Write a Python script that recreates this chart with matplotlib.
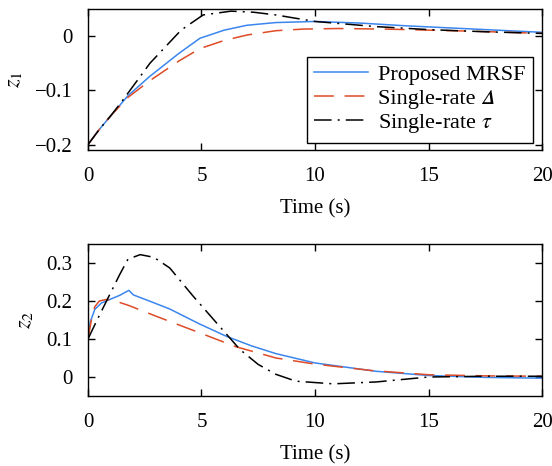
import matplotlib
matplotlib.use("Agg")
import matplotlib.pyplot as plt

plt.rcParams['font.family'] = ['Liberation Serif', 'STIXGeneral', 'DejaVu Serif']
plt.rcParams['mathtext.fontset'] = 'stix'

# ---- data ----
labels = ["Proposed MRSF", "Single-rate \U0001D6E5", r"Single-rate $\tau$"]

t1_mrsf = [0, 0.5, 1.0, 1.76, 2.7, 4.0, 4.93, 6.0, 7.0, 8.28, 10.0, 12.0, 14.0, 16.0, 18.0, 20.0]
z1_mrsf = [-0.2, -0.172, -0.147, -0.11, -0.075, -0.032, -0.004, 0.011, 0.02, 0.025, 0.027, 0.024, 0.019, 0.015, 0.011, 0.007]
t1_sd = [0, 0.5, 1.0, 1.76, 2.73, 4.0, 4.93, 6.0, 7.0, 8.28, 9.5, 11.0, 13.0, 15.0, 17.0, 20.0]
z1_sd = [-0.2, -0.172, -0.147, -0.113, -0.082, -0.046, -0.023, -0.008, 0.002, 0.01, 0.013, 0.014, 0.013, 0.011, 0.009, 0.005]
t1_st = [0, 0.5, 1.0, 1.5, 2.73, 4.1, 5.07, 6.3, 7.3, 8.28, 10.0, 12.7, 15.0, 17.5, 20.0]
z1_st = [-0.2, -0.172, -0.147, -0.12, -0.05, 0.011, 0.039, 0.046, 0.044, 0.039, 0.027, 0.0175, 0.012, 0.008, 0.005]

t2_mrsf = [0, 0.1, 0.3, 0.6, 1.0, 1.4, 1.8, 2.0, 2.7, 3.6, 4.9, 6.1, 7.2, 8.28, 10.0, 12.7, 15.0, 17.5, 20.0]
z2_mrsf = [0.1, 0.145, 0.178, 0.195, 0.205, 0.215, 0.228, 0.216, 0.2, 0.179, 0.14, 0.107, 0.082, 0.0615, 0.037, 0.015, 0.004, -0.001, -0.003]
t2_sd = [0, 0.15, 0.3, 0.5, 0.8, 1.2, 1.76, 3.0, 4.93, 6.5, 8.28, 10.0, 12.5, 15.0, 17.5, 20.0]
z2_sd = [0.1, 0.15, 0.185, 0.2, 0.204, 0.2, 0.189, 0.16, 0.116, 0.08, 0.05, 0.034, 0.017, 0.006, 0.003, 0.002]
t2_st = [0, 0.4, 0.9, 1.4, 1.76, 2.3, 2.9, 3.6, 4.6, 5.8, 6.7, 7.5, 8.28, 9.16, 10.8, 12.7, 15.0, 17.5, 20.0]
z2_st = [0.1, 0.15, 0.21, 0.27, 0.31, 0.322, 0.315, 0.287, 0.215, 0.133, 0.072, 0.033, 0.007, -0.011, -0.018, -0.013, 0.0, 0.002, 0.002]

c_blue = '#3a86ee'
c_red = '#de4b26'
c_black = 'black'

FS = 15

fig = plt.figure(figsize=(5.52, 4.66), dpi=100)
ax1 = fig.add_axes([0.1594, 0.6781, 0.8225, 0.3026])
ax2 = fig.add_axes([0.1594, 0.1502, 0.8225, 0.3262])

def draw(ax, tm, zm, ts, zs, tt, zt):
    ax.plot(tm, zm, color=c_blue, lw=1.1, label=labels[0])
    ax.plot(ts, zs, color=c_red, lw=1.1, dashes=(13, 7), label=labels[1])
    ax.plot(tt, zt, color=c_black, lw=1.1, dashes=(11.5, 4, 1.3, 4), label=labels[2])
    ax.set_xlim(0, 20)
    ax.set_xticks([0, 5, 10, 15, 20])
    ax.tick_params(direction='in', top=True, right=True, labelsize=FS, length=5, width=1, pad=11)
    ax.tick_params(axis='x', pad=12)
    for s in ax.spines.values():
        s.set_linewidth(1.0)
    ax.set_xlabel('Time (s)', fontsize=FS, labelpad=10)

draw(ax1, t1_mrsf, z1_mrsf, t1_sd, z1_sd, t1_st, z1_st)
ax1.set_ylim(-0.21, 0.05)
ax1.set_yticks([-0.2, -0.1, 0])
ax1.set_yticklabels(['\u22120.2', '\u22120.1', '0'])
ax1.set_ylabel(r'$z_1$', fontsize=FS + 1, labelpad=8)
leg = ax1.legend(loc='lower right', fontsize=16, frameon=True, fancybox=False,
                 edgecolor='black', framealpha=1, handlelength=2.4,
                 borderpad=0.35, labelspacing=0.15, handletextpad=0.45,
                 borderaxespad=0, bbox_to_anchor=(0.980, 0.05))
leg.get_frame().set_linewidth(1.0)

draw(ax2, t2_mrsf, z2_mrsf, t2_sd, z2_sd, t2_st, z2_st)
ax2.set_ylim(-0.05, 0.35)
ax2.set_yticks([0, 0.1, 0.2, 0.3])
ax2.set_yticklabels(['0', '0.1', '0.2', '0.3'])
ax2.set_ylabel(r'$z_2$', fontsize=FS + 1, labelpad=8)

fig.savefig('out.png', dpi=100)
